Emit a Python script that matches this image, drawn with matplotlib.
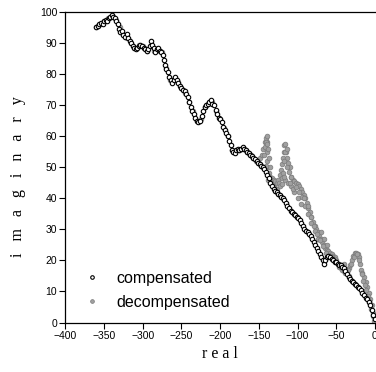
import numpy as np
import matplotlib
matplotlib.use("Agg")
import matplotlib.pyplot as plt

# compensated curve (open circles)
comp_x = [-360, -358, -356, -354, -352, -350, -348, -346, -344, -342, -340, -338,
          -336, -334, -332, -331, -329, -327, -325, -323, -321, -319, -317, -315,
          -313, -311, -309, -307, -305, -303, -301, -299, -297, -295, -293, -291,
          -289, -288, -286, -284, -282, -280, -278, -276, -274, -272, -271, -270,
          -268, -266, -264, -262, -260, -258, -256, -254, -252, -250, -248, -246,
          -244, -242, -240, -238, -236, -234, -232, -230, -228, -226, -224, -222,
          -220, -218, -216, -214, -212, -210, -208, -206, -204, -202, -200, -198,
          -196, -194, -192, -190, -188, -186, -185, -183, -181, -179, -177, -175,
          -173, -171, -169, -167, -165, -163, -161, -159, -157, -155, -153, -151,
          -149, -147, -145, -143, -141, -139, -137, -135, -133, -131, -129, -127,
          -125, -123, -121, -119, -117, -115, -113, -111, -109, -107, -105, -103,
          -101, -99, -97, -95, -93, -91, -89, -87, -85, -83, -81, -79, -77, -75,
          -73, -71, -69, -67, -66, -64, -62, -60, -58, -56, -54, -52, -50, -48,
          -46, -44, -42, -40, -38, -36, -34, -32, -30, -28, -26, -24, -22, -20,
          -18, -16, -14, -12, -10, -8, -6, -4, -2, 0]
comp_y = [95, 95.5, 96, 96.5, 96, 97, 97.5, 97, 98, 98.5, 99, 98.5,
          98, 97, 96, 94.5, 93.5, 94, 92.5, 92, 93, 91.5, 90.5, 90,
          89, 88.5, 88, 88.5, 89, 89.5, 89, 88.5, 88, 87.5, 88, 89,
          90.5, 89.5, 88.5, 87, 88, 88.5, 87.5, 87, 86, 84.5, 83, 81.5,
          80.5, 79, 78, 77, 78, 79, 78, 77, 76, 75.5, 75, 74.5,
          73.5, 72.5, 71, 69.5, 68, 67, 66, 65, 64.5, 65, 66.5, 68,
          69.5, 70, 70.5, 71, 71.5, 70.5, 70, 68.5, 67, 66, 65.5, 64.5,
          63, 62, 61, 60, 58.5, 57, 55.5, 55, 54.5, 55.5, 56, 55.5,
          56, 56.5, 56, 55.5, 55, 54.5, 54, 53.5, 53, 52.5, 52, 51.5,
          51, 50.5, 50, 49.5, 48.5, 47.5, 46.5, 45, 44, 43, 42.5, 42,
          41.5, 41, 40.5, 40, 39.5, 38.5, 37.5, 37, 36, 35.5, 35, 34.5,
          34, 33.5, 33, 32, 31, 30, 29.5, 29, 28.5, 28, 27, 26, 25, 24,
          23, 22, 21, 20, 19, 20, 21, 21.5, 21, 20.5, 20, 19.5, 19.5, 19,
          18.5, 18.5, 18, 17.5, 16.5, 15.5, 14.5, 14, 13.5, 13, 12.5, 12, 11.5, 11,
          10.5, 9.5, 9, 8, 7.5, 6.5, 5.5, 4, 2.5, 1]

# decompensated curve (grey dots)
deco_x = [-360, -355, -350, -345, -340, -335, -330, -325, -320, -315, -310, -305,
          -300, -295, -290, -285, -280, -275, -270, -265, -260, -255, -250, -245,
          -240, -235, -230, -225, -220, -215, -210, -205, -200, -195, -190, -185,
          -180, -175, -170, -165, -160, -157, -154, -151, -148, -146, -144, -142,
          -141, -140, -139, -139, -140, -139, -137, -135, -133, -131, -129, -127,
          -125, -123, -121, -120, -119, -118, -117, -116, -115, -114, -112, -110,
          -108, -106, -104, -102, -100, -98, -96, -94, -92, -90, -88, -86,
          -84, -82, -80, -78, -76, -74, -72, -70, -68, -66, -64, -62,
          -60, -58, -56, -54, -52, -50, -48, -46, -44, -42, -40, -38,
          -36, -34, -32, -30, -28, -26, -24, -22, -20, -19, -18, -16,
          -14, -12, -10, -8, -6, -4, -2, 0,
          -132, -128, -124, -120, -116, -112, -108, -104, -100, -96, -70, -66,
          -62, -40, -37, -34,
          -143, -142, -141, -140, -138, -137, -136, -141, -138, -134, -130, -126,
          -122, -119, -118, -116, -114, -113, -111, -109, -120, -117, -110, -106,
          -102, -98, -94, -90, -86, -82, -78, -74, -91, -87, -83, -79,
          -75, -71, -67, -63, -59, -55, -51, -47, -43, -39, -35, -31,
          -27, -23, -21, -17, -15, -13, -11, -9, -7, -5, -3, -1]
deco_y = [95, 96, 97, 98, 99, 97.5, 95, 93, 91.5, 90, 88.5, 89.5,
          89, 87.5, 89.5, 87.5, 88, 87, 82, 78, 78, 77.5, 75.5, 74,
          71, 68, 65, 65.5, 69.5, 71, 71, 68, 65.5, 62.5, 60, 55.5,
          55.5, 55.5, 56, 55, 54, 53, 52, 52, 53, 54, 56, 58,
          59.5, 60, 58, 55, 52, 50, 48, 47, 46.5, 46, 45.5, 45,
          46, 47.5, 49, 51, 53, 55, 57, 57.5, 55, 53, 51.5, 50,
          47, 46, 45.5, 45, 44.5, 44, 43, 42, 41, 40, 38.5, 37,
          35.5, 34, 32.5, 31, 30, 29, 28, 27, 26, 25, 24, 23.5,
          23, 22.5, 22, 21.5, 21, 20, 19, 18, 17.5, 17, 16.5, 16,
          16.5, 17.5, 18.5, 20, 21.5, 22.5, 22.5, 22, 21, 19, 17, 16,
          14.5, 13, 11.5, 9.5, 7.5, 5.5, 3, 1,
          44, 43, 45, 46.5, 46, 45, 44, 42, 40, 38, 29, 27,
          25, 19, 17, 15,
          54, 56.5, 58, 57.5, 56, 53, 50, 50.5, 46, 45, 43.5, 43,
          44, 48, 52, 55, 56, 50, 48.5, 47, 44.5, 47, 45, 43,
          43.5, 42, 40.5, 37.5, 35, 32, 29.5, 27, 40, 37.5, 34, 31,
          28.5, 26.5, 24.5, 22.5, 21.5, 21, 20.5, 19, 18, 16.5, 17, 19,
          21, 22, 20, 15.5, 13.5, 12, 10.5, 8.5, 6.5, 4.5, 2, 0.5]

xticks = [-400, -350, -300, -250, -200, -150, -100, -50, 0]
yticks = [0, 10, 20, 30, 40, 50, 60, 70, 80, 90, 100]

fig = plt.figure(figsize=(3.76, 3.72), dpi=100)
ax = fig.add_axes([0.174, 0.133, 0.823, 0.835])

ax.plot(deco_x, deco_y, linestyle="none", marker="o", markersize=3.4,
        markerfacecolor="#a0a0a0", markeredgecolor="#7a7a7a",
        markeredgewidth=0.5, label="decompensated", zorder=2)
ax.plot(comp_x, comp_y, linestyle="none", marker="o", markersize=3.2,
        markerfacecolor="white", markeredgecolor="black",
        markeredgewidth=0.8, label="compensated", zorder=3)

ax.set_xlim(-400, 0)
ax.set_ylim(0, 100)
ax.set_xticks(xticks)
ax.set_yticks(yticks)
ax.tick_params(direction="out", length=4, width=0.8, labelsize=7.5,
               pad=2)
for lab in ax.get_xticklabels() + ax.get_yticklabels():
    lab.set_family("Liberation Sans")

ax.spines["right"].set_visible(False)
for s in ["left", "top", "bottom"]:
    ax.spines[s].set_linewidth(0.9)

ax.set_xlabel("r e a l", family="Liberation Serif", fontsize=11.5,
              labelpad=4)
fig.text(0.048, 0.525, "i   m   a   g   i   n   a   r   y",
         family="Liberation Serif", fontsize=11.5, rotation=90,
         ha="center", va="center")

h, l = ax.get_legend_handles_labels()
leg = ax.legend(h[::-1], l[::-1], loc="lower left",
                bbox_to_anchor=(0.01, -0.005), frameon=False,
                prop={"family": "Liberation Sans", "size": 11.5},
                handletextpad=0.9, labelspacing=0.55, markerscale=0.8,
                handlelength=1.2)

fig.savefig("out.png", dpi=100)
